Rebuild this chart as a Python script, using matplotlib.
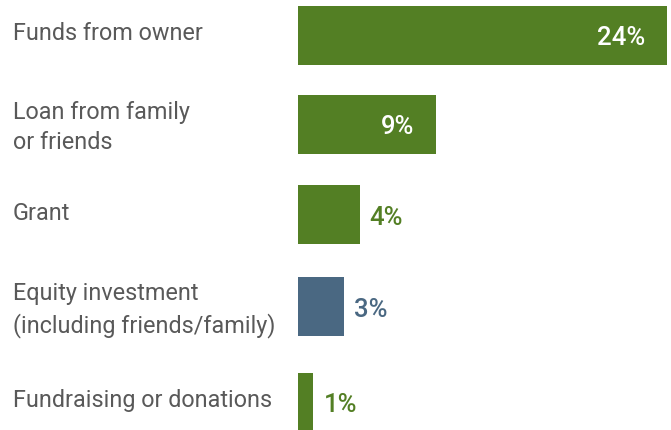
import matplotlib
matplotlib.use("Agg")
import matplotlib.pyplot as plt
from matplotlib import transforms

categories = ["Funds from owner", "Loan from family\nor friends", "Grant",
              "Equity investment\n(including friends/family)", "Fundraising or donations"]
values = [24, 9, 4, 3, 1]
value_labels = ["24%", "9%", "4%", "3%", "1%"]
bar_colors = ["#537f24", "#537f24", "#537f24", "#4a6882", "#537f24"]
inside = [True, True, False, False, False]

# layout: bar centres in pixels (top-down)
centers_px = [36, 125, 215.5, 307.5, 403]

W, H = 671, 431
fig = plt.figure(figsize=(W / 100, H / 100), dpi=100)
left_px, right_px = 298, 667
ax = fig.add_axes([left_px / W, 0, (right_px - left_px) / W, 1])
ax.set_xlim(0, 24)
ax.set_ylim(H, 0)
ax.axis("off")

ys = centers_px
ax.barh(ys, values, height=59, color=bar_colors, clip_on=False)

trans = transforms.blended_transform_factory(fig.transFigure, ax.transData)
for y, cat in zip(ys, categories):
    dy = 2.5 if "\n" in cat else -2.0
    ax.text(13 / W, y + dy, cat, transform=trans, ha="left", va="center",
            fontsize=16.8, family="Roboto", color="#595959", linespacing=1.4)

for y, v, lab, c, ins in zip(ys, values, value_labels, bar_colors, inside):
    if ins:
        ax.annotate(lab, (v, y), xytext=(-22 * 0.72, -1.5), textcoords="offset points",
                    ha="right", va="center", fontsize=18.5, family="Roboto",
                    fontweight="medium", color="white")
    else:
        ax.annotate(lab, (v, y), xytext=(10 * 0.72, -1.5), textcoords="offset points",
                    ha="left", va="center", fontsize=18.5, family="Roboto",
                    fontweight="medium", color=c)

fig.savefig("out.png", dpi=100)
